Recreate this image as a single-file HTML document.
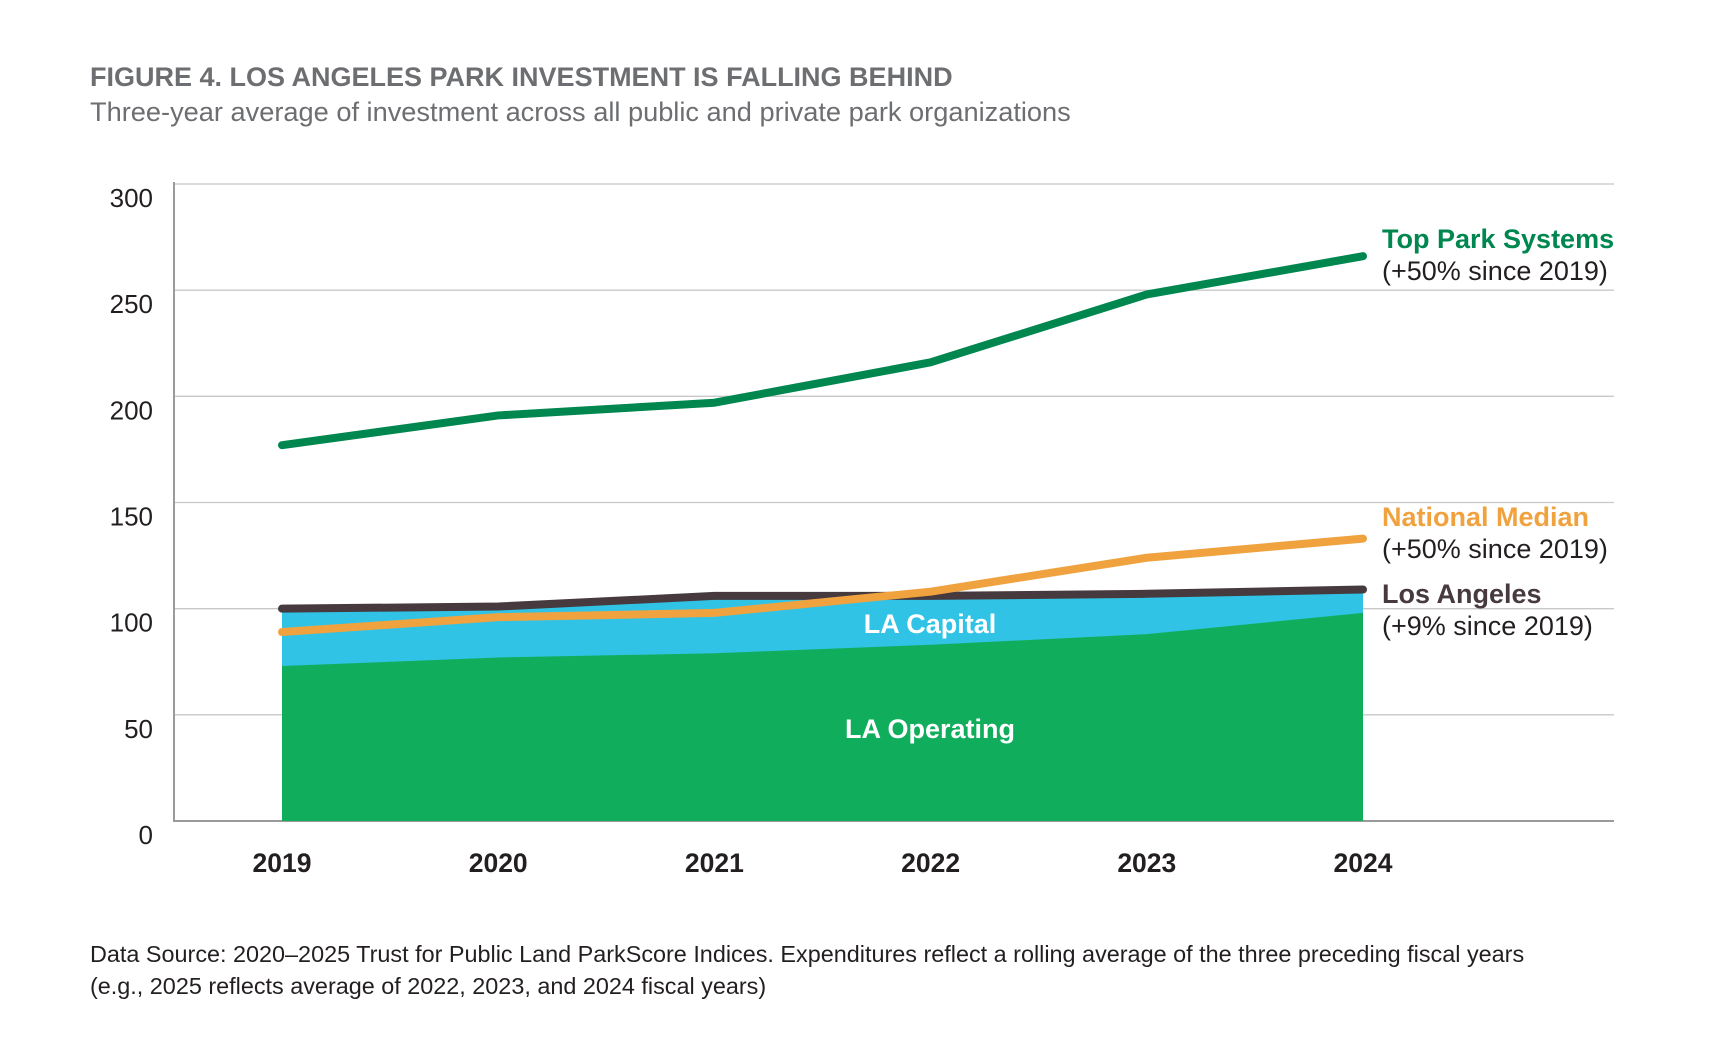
<!DOCTYPE html>
<html><head><meta charset="utf-8"><style>
body{margin:0;background:#fff;width:1736px;height:1038px;overflow:hidden;font-family:"Liberation Sans",Arial,sans-serif}
</style></head><body>
<svg width="1736" height="1038" viewBox="0 0 1736 1038">
<text x="90" y="86" font-size="27" font-weight="bold" fill="#6d6e71">FIGURE 4. LOS ANGELES PARK INVESTMENT IS FALLING BEHIND</text>
<text x="90" y="121" font-size="27.2" fill="#6d6e71">Three-year average of investment across all public and private park organizations</text>
<g id="grid"></g><g id="areas"></g><g id="lines"></g><g id="labels"></g>
<text x="90" y="962" font-size="23.4" fill="#231f20">Data Source: 2020–2025 Trust for Public Land ParkScore Indices. Expenditures reflect a rolling average of the three preceding fiscal years</text>
<text x="90" y="994" font-size="23.4" fill="#231f20">(e.g., 2025 reflects average of 2022, 2023, and 2024 fiscal years)</text>
</svg>
<script>
const years=["2019","2020","2021","2022","2023","2024"];
const topParks=[177,191,197,216,248,266];
const nationalMedian=[89,96,98,108,124,133];
const losAngeles=[100,101,106,106,107,109];
const laOperating=[73,77,79,83,88,98];
const yTicks=[0,50,100,150,200,250,300];
const NS="http://www.w3.org/2000/svg";
const x0=282,dx=216.2,yb=821,yt=184,ymax=300,xl=174,xr=1614;
const X=i=>x0+i*dx, Y=v=>yb-(v/ymax)*(yb-yt);
function mk(tag,attrs,parent,text){const e=document.createElementNS(NS,tag);for(const k in attrs)e.setAttribute(k,attrs[k]);if(text!==undefined)e.textContent=text;document.getElementById(parent).appendChild(e);return e;}
yTicks.forEach(v=>{
  if(v>0){const g=mk('line',{x1:xl,x2:xr,y1:Y(v),y2:Y(v),stroke:'#c8c8c8','stroke-width':1.3},'grid');
  
  }
  const t=mk('text',{x:153,y:Y(v)+23,'font-size':26,'text-anchor':'end',fill:'#231f20'},'labels',String(v));
  
  
});
years.forEach((y,i)=>{const t=mk('text',{x:X(i),y:872,'font-size':26.5,'font-weight':'bold','text-anchor':'middle',fill:'#231f20'},'labels',y);
  
  });
let cap='M'+X(0)+','+yb;years.forEach((_,i)=>cap+=' L'+X(i)+','+Y(losAngeles[i]-1));cap+=' L'+X(5)+','+yb+' Z';
const ca=mk('path',{d:cap,fill:'#31c3e6'},'areas');


let op='M'+X(0)+','+yb;years.forEach((_,i)=>op+=' L'+X(i)+','+Y(laOperating[i]));op+=' L'+X(5)+','+yb+' Z';
const oa=mk('path',{d:op,fill:'#10ae5c'},'areas');


const ax=mk('path',{d:'M'+xl+','+(yt-2)+' L'+xl+','+yb+' L'+xr+','+yb,fill:'none',stroke:'#9a9a9a','stroke-width':2},'grid');


function line(arr,col,name){const p=mk('polyline',{points:arr.map((v,i)=>X(i)+','+Y(v)).join(' '),fill:'none',stroke:col,'stroke-width':8,'stroke-linecap':'round','stroke-linejoin':'round'},'lines');
  
  }
line(losAngeles,'#463a3f','los-angeles-line');
line(nationalMedian,'#f0a23f','national-median-line');
line(topParks,'#00864f','top-park-systems-line');
const lbl=[["LA Capital",930,633,"la-capital-label"],["LA Operating",930,738,"la-operating-label"]];
lbl.forEach(l=>{const t=mk('text',{x:l[1],y:l[2],'font-size':27,'font-weight':'bold','text-anchor':'middle',fill:'#fff'},'labels',l[0]);
  
  });
const leg=[["Top Park Systems","(+50% since 2019)","#00864f",248,"top-park-systems"],["National Median","(+50% since 2019)","#f0a23f",526,"national-median"],["Los Angeles","(+9% since 2019)","#463a3f",603,"los-angeles"]];
leg.forEach(l=>{const a=mk('text',{x:1382,y:l[3],'font-size':27,'font-weight':'bold',fill:l[2]},'labels',l[0]);
  
  
  const b=mk('text',{x:1382,y:l[3]+32,'font-size':27,fill:'#231f20'},'labels',l[1]);
  
  });
</script>
</body></html>
